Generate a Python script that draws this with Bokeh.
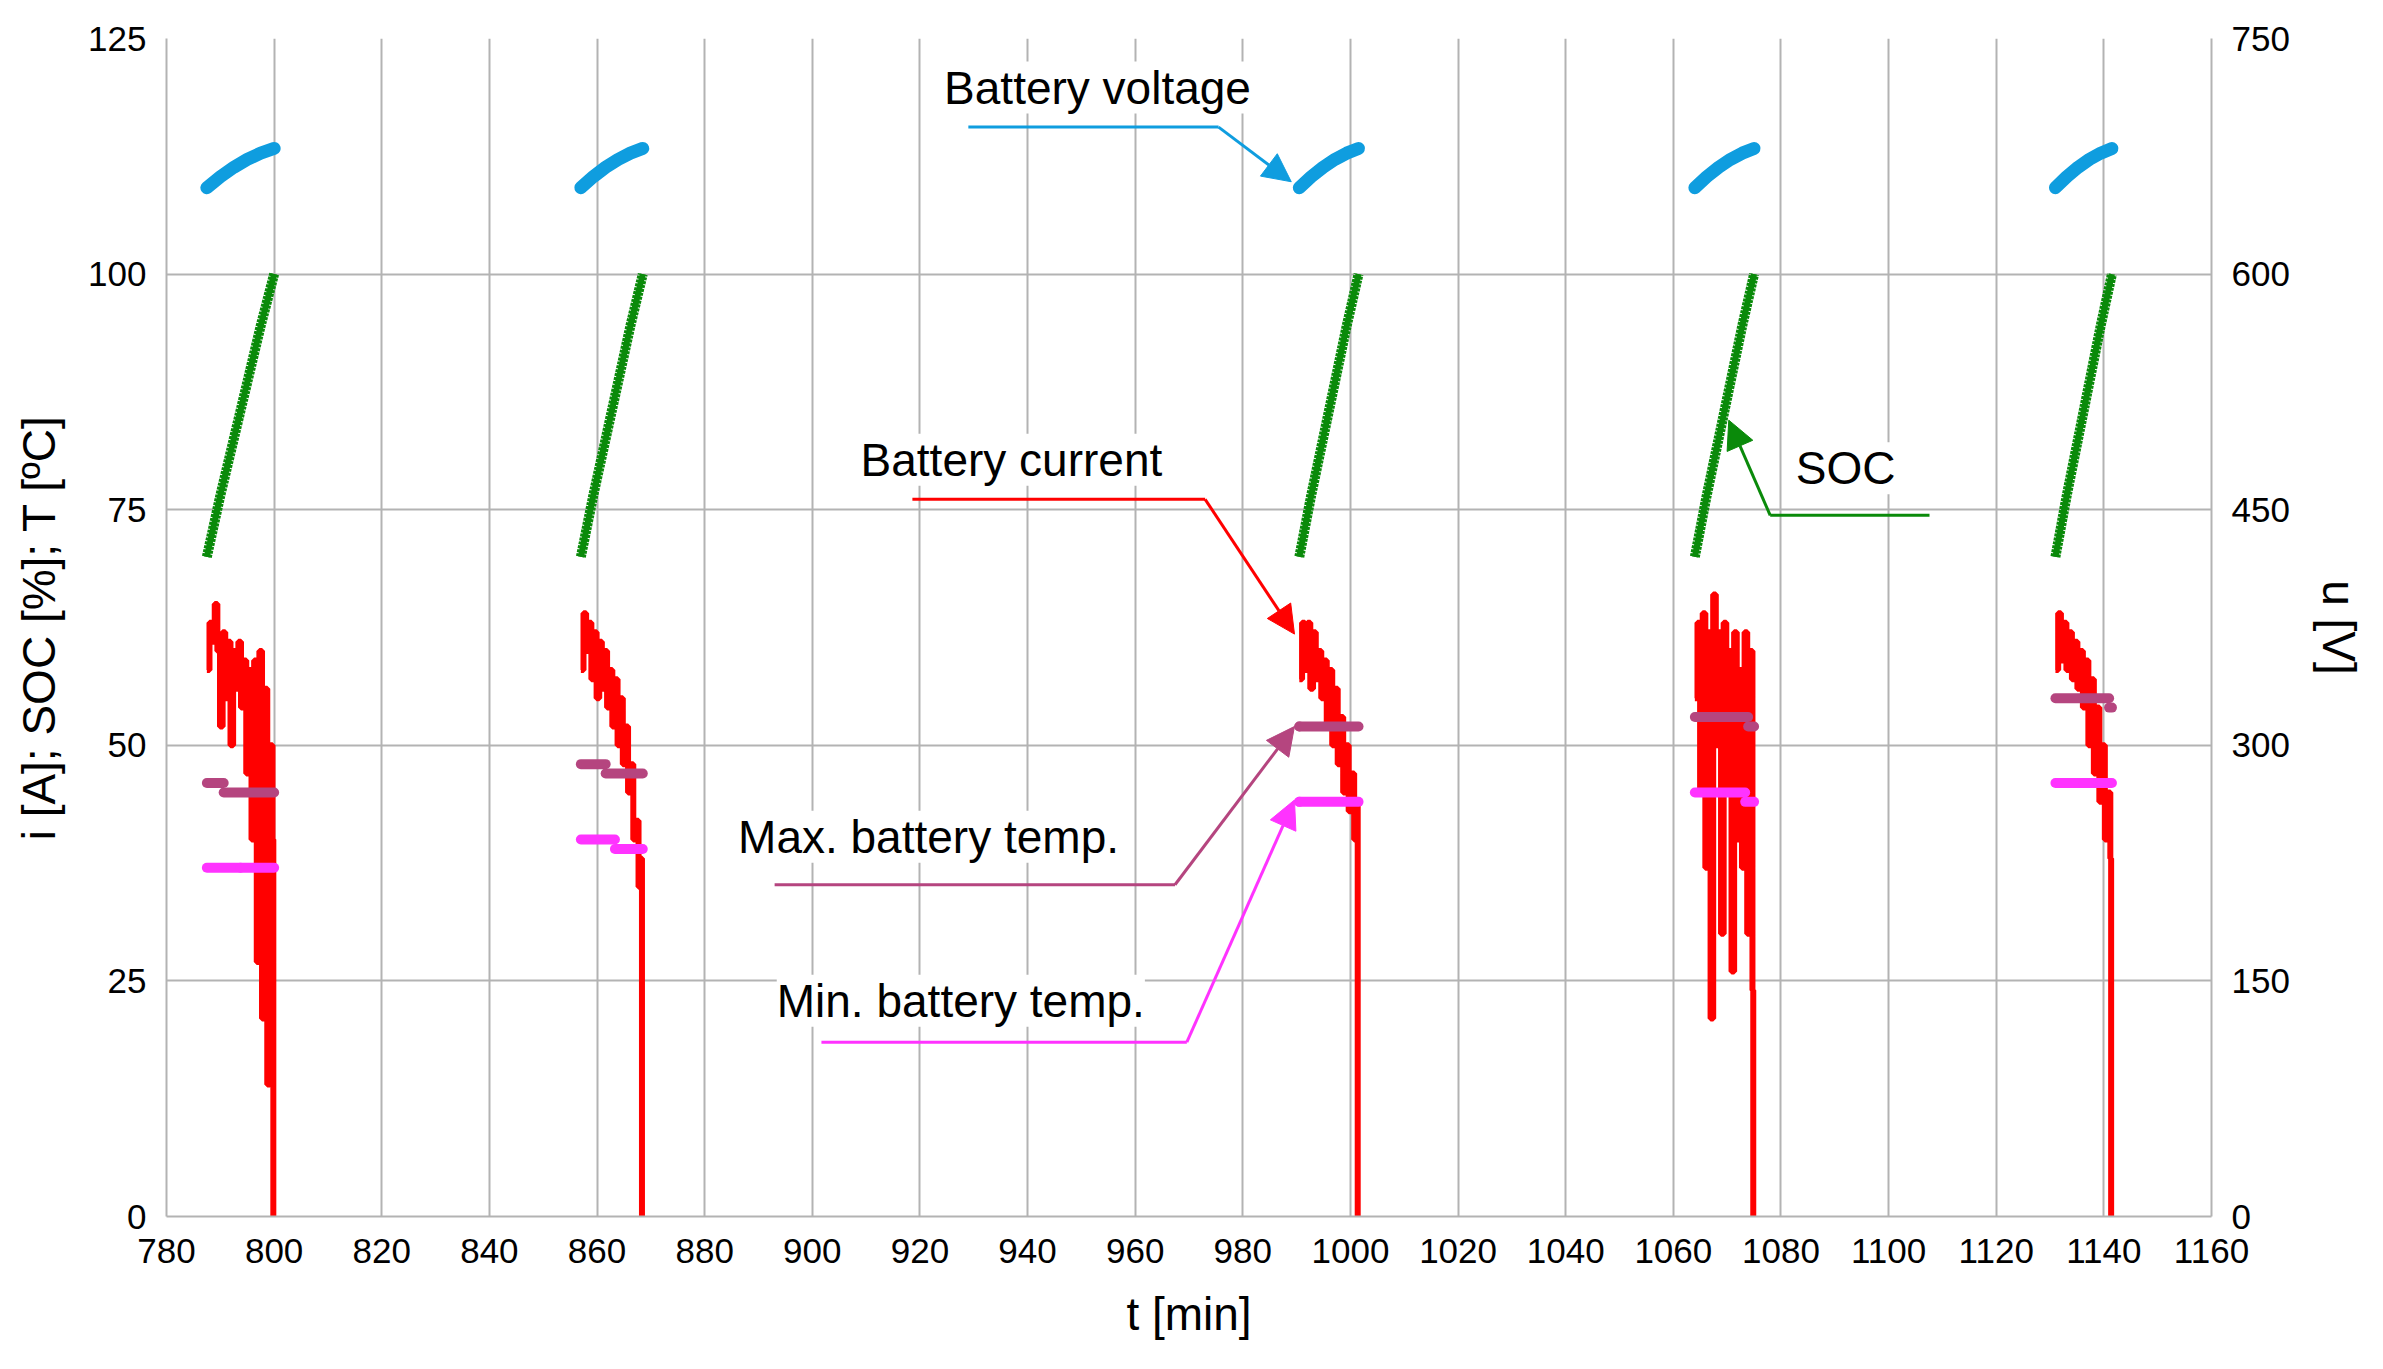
import numpy as np
from bokeh.plotting import figure
from bokeh.models import Range1d, LinearAxis, Label, Arrow, NormalHead, FixedTicker
from bokeh.embed import file_html
from bokeh.resources import INLINE

# ---- data ----
starts = [787.5, 857.0, 990.5, 1064.0, 1131.0]
ends = [800.0, 868.5, 1001.5, 1075.0, 1141.5]
volt_v = [655, 662, 668, 673, 677, 680]           # u [V]
soc_pct = [70, 76.5, 82.5, 88.5, 94.5, 100]       # SOC [%]
current = [
    [58, 63, 61, 65, 60, 52, 62, 55, 61, 50, 60, 56, 61, 54, 59, 47, 58, 40, 59, 27, 60, 21, 56, 14, 50, 40],
    [58, 64, 60, 63, 57, 62, 55, 61, 56, 60, 54, 58, 52, 57, 50, 55, 48, 52, 45, 48, 40, 42, 35, 38],
    [57, 63, 58, 63, 56, 62, 57, 60, 55, 59, 52, 58, 50, 56, 48, 53, 45, 50, 43, 47, 40, 44],
    [55, 63, 45, 64, 37, 62, 21, 66, 50, 62, 30, 63, 45, 60, 26, 62, 40, 58, 37, 62, 30, 60, 24],
    [58, 64, 59, 63, 58, 62, 57, 61, 56, 60, 54, 59, 50, 57, 47, 54, 44, 50, 40, 45, 38],
]
tmax = [[46, 45], [48, 47], [52, 52], [53, 52], [55, 54]]
tmax_step = [0.25, 0.4, 0.0, 0.9, 0.95]
tmin = [[37, 37], [40, 39], [44, 44], [45, 44], [46, 46]]
tmin_step = [0.5, 0.55, 0.0, 0.85, 0.5]

x_ticks = list(range(780, 1161, 20))
y_ticks = [0, 25, 50, 75, 100, 125]
u_ticks = [0, 150, 300, 450, 600, 750]

FONT = "Liberation Sans"

p = figure(width=2367, height=1353, output_backend="svg", toolbar_location=None,
           x_range=Range1d(780, 1160), y_range=Range1d(0, 125),
           min_border_left=166, min_border_right=145, min_border_top=38, min_border_bottom=137)
p.extra_y_ranges = {"u": Range1d(0, 750)}
p.outline_line_color = None
p.background_fill_color = "white"

def style_axis(ax):
    ax.major_label_text_font = FONT
    ax.major_label_text_font_size = "35px"
    ax.major_label_text_color = "black"
    ax.axis_label_text_font = FONT
    ax.axis_label_text_font_size = "46px"
    ax.axis_label_text_font_style = "normal"
    ax.axis_label_text_color = "black"
    ax.axis_line_color = "#b3b3b3"
    ax.axis_line_width = 2
    ax.major_tick_out = 0
    ax.major_tick_in = 0
    ax.minor_tick_line_color = None

style_axis(p.xaxis[0])
style_axis(p.yaxis[0])
p.xaxis.ticker = FixedTicker(ticks=x_ticks)
p.yaxis.ticker = FixedTicker(ticks=y_ticks)
p.xaxis.axis_label = "t [min]"
p.yaxis.axis_label = "i [A]; SOC [%]; T [ºC]"
p.xaxis.major_label_standoff = 22
p.yaxis.major_label_standoff = 20
p.xaxis.axis_label_standoff = 22
p.yaxis.axis_label_standoff = 20

ra = LinearAxis(y_range_name="u", ticker=FixedTicker(ticks=u_ticks), axis_label="u [V]")
style_axis(ra)
ra.major_label_standoff = 20
ra.axis_label_standoff = 20
p.add_layout(ra, "right")

p.grid.grid_line_color = "#b3b3b3"
p.grid.grid_line_width = 2
p.xgrid.ticker = FixedTicker(ticks=x_ticks)
p.ygrid.ticker = FixedTicker(ticks=y_ticks)

for i in range(5):
    s, e = starts[i], ends[i]
    tv = np.linspace(s, e, len(volt_v))
    p.line(tv, volt_v, y_range_name="u", line_color="#0f9ddf", line_width=13, line_cap="round")
    ts = np.linspace(s, e, len(soc_pct))
    p.line(ts, soc_pct, line_color="#0a8a0a", line_width=10, line_dash="3 1")
    p.line(ts, soc_pct, line_color="#0a8a0a", line_width=6)
    c = current[i]
    tc = list(np.linspace(s, e - 0.3, len(c)))
    p.step(tc + [e - 0.15, e], c + [0, 0], mode="after", line_color="red", line_width=6)
    sm = s + tmax_step[i] * (e - s)
    p.line([s, sm], [tmax[i][0]] * 2, line_color="#b5457f", line_width=10, line_cap="round")
    p.line([sm, e], [tmax[i][1]] * 2, line_color="#b5457f", line_width=10, line_cap="round")
    sn = s + tmin_step[i] * (e - s)
    p.line([s, sn], [tmin[i][0]] * 2, line_color="#ff33ff", line_width=10, line_cap="round")
    p.line([sn, e], [tmin[i][1]] * 2, line_color="#ff33ff", line_width=10, line_cap="round")

def annot(text, tx, ty, pts, color):
    p.add_layout(Label(x=tx, y=ty, text=text, text_font=FONT, text_font_size="46px",
                       text_align="center", text_baseline="middle", text_color="black",
                       background_fill_color="white"))
    xs = [q[0] for q in pts[:-1]]
    ys = [q[1] for q in pts[:-1]]
    p.line(xs, ys, line_color=color, line_width=3)
    p.add_layout(Arrow(end=NormalHead(size=28, fill_color=color, line_color=color),
                       x_start=pts[-2][0], y_start=pts[-2][1], x_end=pts[-1][0], y_end=pts[-1][1],
                       line_color=color, line_width=3))

annot("Battery voltage", 953, 119.8, [(929, 115.6), (975.5, 115.6), (989, 109.8)], "#0f9ddf")
annot("Battery current", 937, 80.3, [(918.6, 76.1), (973, 76.1), (989.6, 61.8)], "red")
annot("Max. battery temp.", 921.6, 40.3, [(893, 35.2), (967.4, 35.2), (989.6, 52)], "#b5457f")
annot("Min. battery temp.", 927.6, 22.9, [(901.7, 18.5), (969.6, 18.5), (989.6, 44.2)], "#ff33ff")
annot("SOC", 1092, 79.4, [(1107.6, 74.4), (1078, 74.4), (1070.3, 84.5)], "#0a8a0a")

open("out.html", "w").write(file_html(p, INLINE))
